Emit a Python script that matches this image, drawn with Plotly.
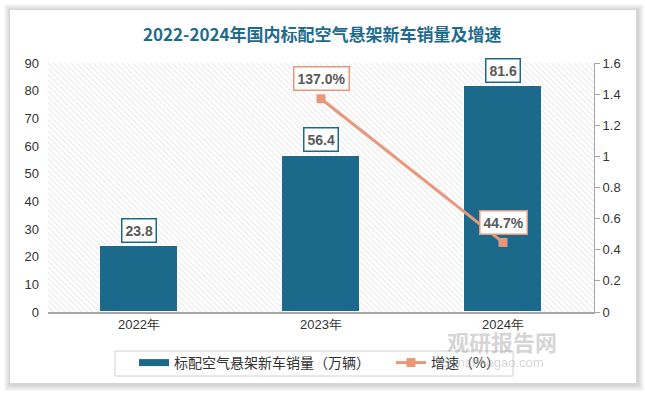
import plotly.graph_objects as go

categories = ["2022年", "2023年", "2024年"]
sales = [23.8, 56.4, 81.6]
growth_x = ["2023年", "2024年"]
growth = [1.37, 0.447]
growth_labels = ["137.0%", "44.7%"]
title_text = "2022-2024年国内标配空气悬架新车销量及增速"
bar_name = "标配空气悬架新车销量（万辆）"
line_name = "增速（%）"

W, H = 645, 393
L, R, T, B = 48, 51, 63, 81
PW, PH = W - L - R, H - T - B

def px_x(x):
    return (x - L) / PW

def px_y(y):
    return (H - B - y) / PH

BAR_COLOR = "#1B6A8C"
LINE_COLOR = "#E9977A"

fig = go.Figure()

# hatched plot background
fig.add_trace(go.Bar(
    x=["2023年"], y=[90], width=3, showlegend=False, hoverinfo="skip",
    marker=dict(color="white", line=dict(width=0),
                pattern=dict(shape="\\", fgcolor="#cfcfcf", bgcolor="white",
                             size=4, solidity=0.25)),
    yaxis="y",
))

fig.add_trace(go.Bar(
    x=categories, y=sales, name=bar_name, width=0.43, showlegend=False,
    marker=dict(color=BAR_COLOR, line=dict(color="white", width=1)),
    yaxis="y",
))

# legend stand-in for the bar series (wide swatch like the reference)
fig.add_trace(go.Scatter(
    x=[None], y=[None], name=bar_name, mode="lines",
    line=dict(color=BAR_COLOR, width=7), yaxis="y",
))

fig.add_trace(go.Scatter(
    x=growth_x, y=growth, name=line_name, mode="lines+markers",
    line=dict(color=LINE_COLOR, width=3),
    marker=dict(symbol="square", size=9, color=LINE_COLOR),
    yaxis="y2",
))

annotations = []
for c, v in zip(categories, sales):
    annotations.append(dict(
        x=c, y=v, xref="x", yref="y", text=f"<b>{v:.1f}</b>", showarrow=False,
        yshift=16, font=dict(size=14, color="#595959", family="Liberation Sans"),
        bgcolor="white", bordercolor=BAR_COLOR, borderwidth=1.5, borderpad=3,
    ))
for c, v, t in zip(growth_x, growth, growth_labels):
    annotations.append(dict(
        x=c, y=v, xref="x", yref="y2", text=f"<b>{t}</b>", showarrow=False,
        yshift=20, font=dict(size=14, color="#595959", family="Liberation Sans"),
        bgcolor="white", bordercolor=LINE_COLOR, borderwidth=1.5, borderpad=3,
    ))

# title
annotations.append(dict(
    x=px_x(322), y=px_y(33), xref="paper", yref="paper", showarrow=False,
    text="<b>" + title_text + "</b>",
    font=dict(size=17, color="#1F6B8E", family="Noto Sans CJK SC"),
    xanchor="center", yanchor="middle",
))

# watermark
annotations.append(dict(
    x=px_x(502), y=px_y(341), xref="paper", yref="paper", showarrow=False,
    text="<b>观研报告网</b>", font=dict(size=22, color="rgba(160,160,160,0.45)",
                                   family="Noto Sans CJK SC"),
    xanchor="center", yanchor="middle",
))
annotations.append(dict(
    x=px_x(492), y=px_y(362), xref="paper", yref="paper", showarrow=False,
    text="chinabaogao.com", font=dict(size=13, color="rgba(160,160,160,0.45)",
                                     family="Liberation Sans"),
    xanchor="center", yanchor="middle",
))

shapes = []
# shadow around the card
shadow_cols = ["#f7f7f7", "#f1f1f1", "#eaeaea", "#e3e3e3", "#dcdcdc", "#d6d6d6"]
for i, col in enumerate(shadow_cols):
    d = 7 - i
    shapes.append(dict(
        type="rect", xref="paper", yref="paper", layer="below",
        x0=px_x(10 - d + 1), x1=px_x(636 + d + 1), y0=px_y(10 - d + 1), y1=px_y(383 + d + 1),
        fillcolor=col, line=dict(width=0),
    ))
shapes.append(dict(
    type="rect", xref="paper", yref="paper", layer="below",
    x0=px_x(10), x1=px_x(636), y0=px_y(10), y1=px_y(383),
    fillcolor="white", line=dict(width=0),
))
# legend frame
shapes.append(dict(
    type="rect", xref="paper", yref="paper", layer="above",
    x0=px_x(115), x1=px_x(513), y0=px_y(351), y1=px_y(376),
    fillcolor="rgba(0,0,0,0)", line=dict(width=1, color="#d0d0d0"),
))

fig.update_layout(
    width=W, height=H,
    margin=dict(l=L, r=R, t=T, b=B, autoexpand=False),
    paper_bgcolor="white",
    plot_bgcolor="rgba(0,0,0,0)",
    barmode="overlay",
    bargap=0,
    font=dict(family="Liberation Sans", size=13, color="#333333"),
    xaxis=dict(
        type="category", categoryorder="array", categoryarray=categories,
        range=[-0.5, 2.5], showline=True, linecolor="#a6a6a6", linewidth=1.5,
        ticks="", showgrid=False, tickfont=dict(size=13, color="#333333"),
        automargin=False,
    ),
    yaxis=dict(
        range=[0, 90], dtick=10, showgrid=False, zeroline=False, showline=False,
        ticks="", tickfont=dict(size=13, color="#333333"), ticklabelstandoff=8,
        automargin=False,
    ),
    yaxis2=dict(
        range=[0, 1.6], dtick=0.2, overlaying="y", side="right", showgrid=False,
        zeroline=False, showline=True, linecolor="#a6a6a6", linewidth=1,
        ticks="outside", ticklen=5, tickcolor="#a6a6a6",
        tickfont=dict(size=13, color="#333333"), automargin=False,
    ),
    legend=dict(
        orientation="h", x=px_x(134), y=px_y(363), xanchor="left", yanchor="middle",
        borderwidth=0, bgcolor="rgba(255,255,255,0)",
        font=dict(size=14, color="#333333", family="Noto Sans CJK SC"),
        traceorder="normal", entrywidth=212, entrywidthmode="pixels",
    ),
    annotations=annotations,
    shapes=shapes,
)

fig.write_html(
    "out.html",
    config={"displayModeBar": False},
    post_script="document.body.style.margin='0';document.body.style.overflow='hidden';",
)
